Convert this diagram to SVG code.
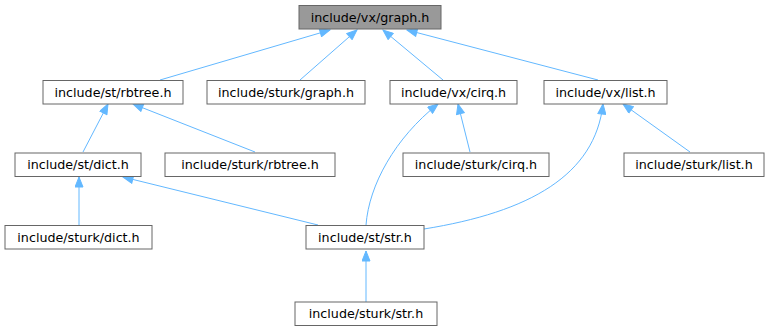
<svg xmlns="http://www.w3.org/2000/svg" width="773" height="329" viewBox="0 0 773 329">
  <style>
    .node rect { fill: #ffffff; stroke: #666666; stroke-width: 1; }
    .node.root rect { fill: #999999; }
    .node text { font-family: "DejaVu Sans", "Liberation Sans", sans-serif; font-size: 12.7px; fill: #000000; text-anchor: middle; }
    .edges path { fill: none; stroke: #63b8ff; stroke-width: 1; marker-end: url(#arrow); }
  </style>
  <defs>
    <marker id="arrow" markerUnits="userSpaceOnUse" markerWidth="12" markerHeight="9" refX="11" refY="4.5" orient="auto">
      <path d="M1,0.5 L11,4.5 L1,8.5 z" fill="#63b8ff" stroke="#63b8ff" stroke-width="1"/>
    </marker>
  </defs>

  <g class="edges">
    <path d="M160,80 L330,30"/>
    <path d="M300,80 L357,30"/>
    <path d="M443,80 L383,30"/>
    <path d="M598,80 L407,30"/>
    <path d="M83,152 L108,104"/>
    <path d="M255,152 L133,104"/>
    <path d="M366,225 C369,185 395,138 438,104"/>
    <path d="M470,152 L458,104"/>
    <path d="M424,229 C530,212 595,175 603,104"/>
    <path d="M690,152 L623,104"/>
    <path d="M318,225 L123,177"/>
    <path d="M79,225 L79,177"/>
    <path d="M366,302 L366,251"/>
  </g>

  <g id="vx_graph" class="node root">
    <rect x="299" y="5.5" width="142" height="23.5"/>
    <text x="370" y="21.5">include/vx/graph.h</text>
  </g>
  <g id="st_rbtree" class="node">
    <rect x="43" y="80.5" width="140" height="23.5"/>
    <text x="113" y="96.5">include/st/rbtree.h</text>
  </g>
  <g id="sturk_graph" class="node">
    <rect x="207" y="80.5" width="158" height="23.5"/>
    <text x="286" y="96.5">include/sturk/graph.h</text>
  </g>
  <g id="vx_cirq" class="node">
    <rect x="390" y="80.5" width="127" height="23.5"/>
    <text x="453.5" y="96.5">include/vx/cirq.h</text>
  </g>
  <g id="vx_list" class="node">
    <rect x="544" y="80.5" width="123" height="23.5"/>
    <text x="605.5" y="96.5">include/vx/list.h</text>
  </g>
  <g id="st_dict" class="node">
    <rect x="15" y="153" width="126" height="23.5"/>
    <text x="78" y="169">include/st/dict.h</text>
  </g>
  <g id="sturk_rbtree" class="node">
    <rect x="165" y="153" width="170" height="23.5"/>
    <text x="250" y="169">include/sturk/rbtree.h</text>
  </g>
  <g id="sturk_cirq" class="node">
    <rect x="403" y="153" width="146" height="23.5"/>
    <text x="476" y="169">include/sturk/cirq.h</text>
  </g>
  <g id="sturk_list" class="node">
    <rect x="624" y="153" width="140" height="23.5"/>
    <text x="694" y="169">include/sturk/list.h</text>
  </g>
  <g id="sturk_dict" class="node">
    <rect x="5" y="225.5" width="147" height="23.5"/>
    <text x="78.5" y="241.5">include/sturk/dict.h</text>
  </g>
  <g id="st_str" class="node">
    <rect x="306" y="225.5" width="118" height="23.5"/>
    <text x="365" y="241.5">include/st/str.h</text>
  </g>
  <g id="sturk_str" class="node">
    <rect x="295" y="302" width="142" height="23.5"/>
    <text x="366" y="318">include/sturk/str.h</text>
  </g>
</svg>
